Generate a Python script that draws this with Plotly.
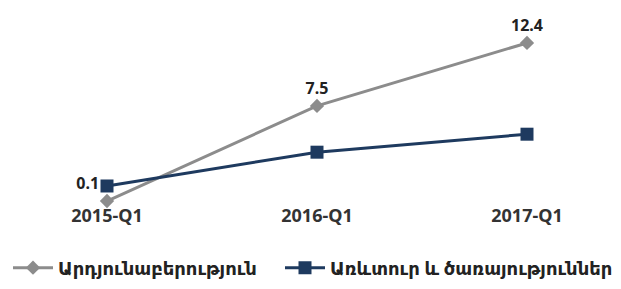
import plotly.graph_objects as go

categories = ["2015-Q1", "2016-Q1", "2017-Q1"]
industry = [0.1, 7.5, 12.4]
trade_services = [1.27, 3.9, 5.3]
industry_labels = ["0.1", "7.5", "12.4"]
series_names = ["Արդյունաբերություն", "Առևտուր և ծառայություններ"]

FONT = "Noto Sans, DejaVu Sans, sans-serif"
xpos = list(range(len(categories)))

fig = go.Figure()
fig.add_trace(go.Scatter(
    x=xpos, y=industry, name=series_names[0], mode="lines+markers+text",
    line=dict(color="#8c8c8c", width=3),
    marker=dict(symbol="diamond", size=11, color="#8c8c8c"),
    text=industry_labels,
    textposition=["top left", "top center", "top center"],
    textfont=dict(family=FONT, size=16, color="#222222", weight="bold"),
    cliponaxis=False,
    legend="legend",
))
fig.add_trace(go.Scatter(
    x=xpos, y=trade_services, name=series_names[1], mode="lines+markers",
    line=dict(color="#1e3a5f", width=3),
    marker=dict(symbol="square", size=13, color="#1e3a5f"),
    cliponaxis=False,
    legend="legend2",
))

legend_font = dict(family=FONT, size=18, color="#222222", weight="bold")
fig.update_layout(
    width=621, height=289,
    margin=dict(l=0, r=0, t=0, b=94),
    paper_bgcolor="white", plot_bgcolor="white",
    font=dict(family=FONT, size=15, color="#222222"),
    showlegend=True,
    legend=dict(orientation="h", x=0, xanchor="left", y=-0.333, yanchor="middle",
                font=legend_font, itemwidth=40),
    legend2=dict(orientation="h", x=0.438, xanchor="left", y=-0.333, yanchor="middle",
                 font=legend_font, itemwidth=40),
)
fig.update_xaxes(range=[-0.4714, 2.4857], tickmode="array", tickvals=xpos, ticktext=categories,
                 showgrid=False, zeroline=False, showline=False, ticks="",
                 tickfont=dict(family=FONT, size=18, color="#333333", weight="bold"))
fig.update_yaxes(range=[-0.054, 15.12], visible=False, showgrid=False, zeroline=False)

fig.write_html("out.html")
